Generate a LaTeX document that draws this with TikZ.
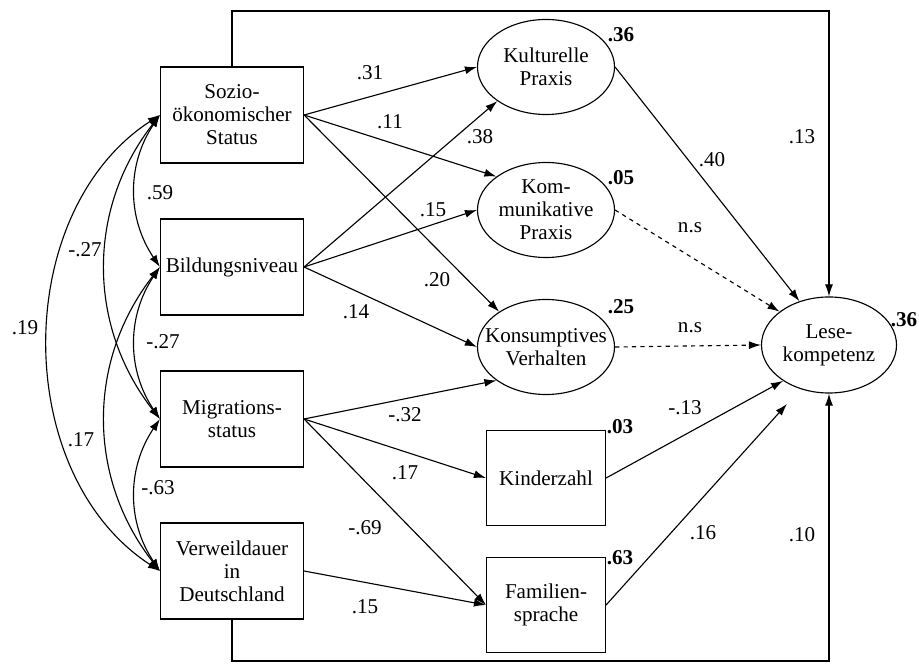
\documentclass[tikz,border=0pt]{standalone}
\usepackage{fontspec}
\setmainfont{Liberation Serif}
\usetikzlibrary{shapes,arrows.meta,positioning,calc}

\begin{document}
\begin{tikzpicture}[
    x=0.025cm, y=0.025cm,
    font=\fontsize{15}{16.4}\selectfont,
    observed/.style={rectangle, draw, line width=0.8pt, minimum width=3.575cm, minimum height=2.4cm, align=center, inner sep=0pt},
    smallbox/.style={observed, minimum width=2.975cm, minimum height=2.375cm},
    latent/.style={ellipse, draw, line width=0.8pt, minimum width=3.425cm, minimum height=2.375cm, align=center, inner xsep=-10pt, inner ysep=-3pt},
    arrow/.style={->, >={Latex[length=3mm,width=2mm]}, line width=0.8pt},
    corr/.style={<->, >={Latex[length=3mm,width=2mm]}, line width=0.8pt},
    nsarrow/.style={arrow, dashed},
    coef/.style={inner sep=1pt},
    rsq/.style={inner sep=1pt, font=\fontsize{15}{16.4}\selectfont\bfseries}
]
\useasboundingbox (0,0) rectangle (919,664);

% Exogene Variablen
\node[observed] (sozio) at (232,549) {Sozio-\\ökonomischer\\Status};
\node[observed] (bild) at (232,397) {Bildungsniveau};
\node[observed] (migr) at (232,245) {Migrations-\\status};
\node[observed] (verw) at (232,93) {Verweildauer\\in\\Deutschland};

% Mediatoren
\node[latent] (kult) at (546,597) {Kulturelle\\Praxis};
\node[latent] (komm) at (546,454) {Kom-\\munikative\\Praxis};
\node[latent] (konsum) at (546,317) {Konsumptives\\Verhalten};
\node[smallbox] (kinder) at (546,186) {Kinderzahl};
\node[smallbox] (famil) at (546,59) {Familien-\\sprache};

% Zielvariable
\node[latent, minimum width=3.375cm, minimum height=2.4cm] (lese) at (829,319) {Lese-\\kompetenz};

% Hilfspunkte fuer die Randpfade
\coordinate (topright) at (829,653);
\coordinate (botright) at (829,3);

% Korrelationen
\draw[corr] (sozio.west) to[bend right=34] (bild.west);
\draw[corr] (sozio.west) to[bend right=38] (migr.west);
\draw[corr] (sozio.west) to[bend right=57] (verw.west);
\draw[corr] (bild.west) to[bend right=34] (migr.west);
\draw[corr] (bild.west) to[bend right=38] (verw.west);
\draw[corr] (migr.west) to[bend right=34] (verw.west);

% Pfade zu den Mediatoren
\draw[arrow] (sozio.east) -- (kult.west);
\draw[arrow] (sozio.east) -- (komm.146);
\draw[arrow] (sozio.east) -- (konsum.143);
\draw[arrow] (bild.east) -- (kult.215);
\draw[arrow] (bild.east) -- (komm.west);
\draw[arrow] (bild.east) -- (konsum.west);
\draw[arrow] (migr.east) -- (konsum.214);
\draw[arrow] (migr.east) -- (kinder.west);
\draw[arrow] (migr.east) -- (famil.west);
\draw[arrow] (verw.east) -- (famil.west);

% Pfade zur Lesekompetenz
\draw[arrow] (kult.east) -- (lese.124);
\draw[nsarrow] (komm.east) -- (lese.146);
\draw[nsarrow] (konsum.east) -- (lese.west);
\draw[arrow] (kinder.east) -- (lese.218);
\draw[arrow, shorten >=0.5cm] (famil.east) -- (lese.237);
\draw[arrow] (sozio.north) |- (topright) -- (lese.north);
\draw[arrow] (verw.south) |- (botright) -- (lese.south);

% Koeffizienten
\node[coef] (c-sb) at (160,471) {.59};
\node[coef] (c-sm) at (85,414) {-.27};
\node[coef] (c-sv) at (25,336) {.19};
\node[coef] (c-bm) at (163,322) {-.27};
\node[coef] (c-bv) at (81,224) {.17};
\node[coef] (c-mv) at (158,176) {-.63};
\node[coef] (c-sk) at (370,591) {.31};
\node[coef] (c-skm) at (390,542) {.11};
\node[coef] (c-bk) at (480,527) {.38};
\node[coef] (c-bkm) at (433,454) {.15};
\node[coef] (c-sks) at (437,384) {.20};
\node[coef] (c-bks) at (356,352) {.14};
\node[coef] (c-mks) at (405,249) {-.32};
\node[coef] (c-mki) at (405,191) {.17};
\node[coef] (c-mf) at (365,136) {-.69};
\node[coef] (c-vf) at (365,57) {.15};
\node[coef] (c-kl) at (712,504) {.40};
\node[coef] (c-kml) at (690,436) {n.s};
\node[coef] (c-ksl) at (690,336) {n.s};
\node[coef] (c-kil) at (685,256) {-.13};
\node[coef] (c-fl) at (703,131) {.16};
\node[coef] (c-sl) at (802,527) {.13};
\node[coef] (c-vl) at (802,129) {.10};

% Erklaerte Varianz
\node[rsq] (r-kult) at (621,629) {.36};
\node[rsq] (r-komm) at (621,486) {.05};
\node[rsq] (r-konsum) at (621,357) {.25};
\node[rsq] (r-kinder) at (620,237) {.03};
\node[rsq] (r-famil) at (620,106) {.63};
\node[rsq] (r-lese) at (904,344) {.36};

\end{tikzpicture}
\end{document}
